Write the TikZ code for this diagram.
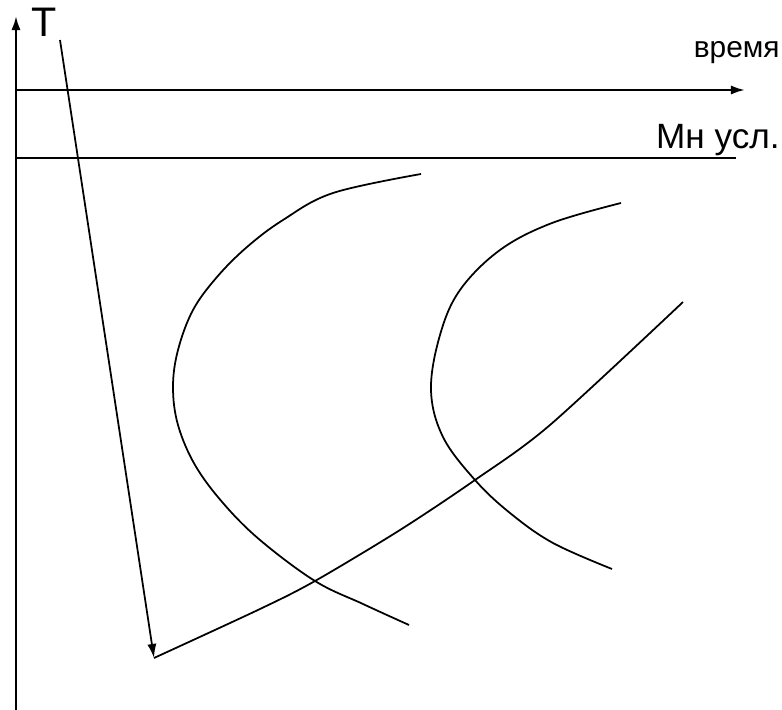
\documentclass[tikz,border=0pt]{standalone}
\usepackage{fontspec}
\setmainfont{Liberation Sans}
\usetikzlibrary{arrows.meta,positioning}
\definecolor{inkcolor}{RGB}{0,0,0}

\begin{document}
\begin{tikzpicture}[x=0.02cm,y=-0.02cm,
    axisline/.style={line width=1.3pt,inkcolor},
    curveline/.style={line width=1.0pt,inkcolor},
    tip/.style={-{Latex[length=8pt,width=5.2pt]}}]
  \useasboundingbox (0,0) rectangle (782,710);

  % axes
  \coordinate (o) at (16,710);
  \coordinate (ytop) at (16,16);
  \coordinate (tleft) at (16,90);
  \coordinate (tright) at (745,90);
  \coordinate (mleft) at (16,158);
  \coordinate (mright) at (736,158);
  \draw[axisline,tip] (o) -- (ytop);
  \draw[axisline,tip] (tleft) -- (tright);
  \draw[axisline] (mleft) -- (mright);

  % labels
  \node[anchor=base west,inner sep=0,font=\fontsize{23.5}{26}\selectfont] (tlab) at (31,36) {T};
  \node[anchor=base east,inner sep=0,font=\fontsize{17}{20}\selectfont] (vremya) at (780,57) {время};
  \node[anchor=base east,inner sep=0,font=\fontsize{20}{24}\selectfont] (mnusl) at (780,148) {Мн усл.};

  % cooling path
  \coordinate (cstart) at (60,40);
  \coordinate (cmin) at (154,658);
  \draw[curveline,tip] (cstart) -- (cmin);
  \draw[curveline] plot[smooth,tension=0.5] coordinates {
    (154,658) (260,609) (315,581) (400,530) (475,480) (550,425) (683,302)};

  % start of transformation
  \draw[curveline] plot[smooth,tension=0.6] coordinates {
    (421,174) (333,193) (283,220) (247,247) (217,277) (193,310) (178,350)
    (173,387) (178,425) (195,465) (223,503) (260,540) (315,581) (363,604) (409,625)};

  % end of transformation
  \draw[curveline] plot[smooth,tension=0.6] coordinates {
    (621,203) (552,223) (500,250) (460,290) (440,335) (431,390)
    (443,437) (475,480) (510,513) (553,543) (612,569)};
\end{tikzpicture}
\end{document}
